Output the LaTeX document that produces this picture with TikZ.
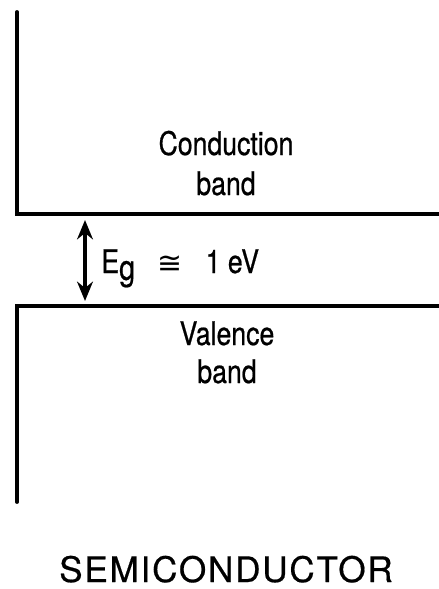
\documentclass[tikz,border=0pt]{standalone}
\usepackage{fontspec}
\setmainfont{TeX Gyre Heros}[FakeBold=0.5]
\newfontfamily\bandfont{TeX Gyre Heros}[FakeStretch=0.82, FakeBold=0.6]
\newfontfamily\capfont{TeX Gyre Heros}[FakeBold=0.5, LetterSpace=5]
\newfontfamily\symfont{DejaVu Sans}
\usetikzlibrary{arrows.meta}

\tikzset{
    bandline/.style={line width=2.2pt, line cap=round, line join=miter},
    bandtext/.style={anchor=base, inner sep=0pt, font=\bandfont\fontsize{18.5}{22}\selectfont},
}

\begin{document}
\begin{tikzpicture}[x=0.02cm, y=-0.02cm]
    \useasboundingbox (0, 0) rectangle (439, 589);

    % conduction band
    \draw[bandline] (17, 12) -- (17, 214) -- (439, 214);
    % valence band
    \draw[bandline] (17, 502) -- (17, 306) -- (439, 306);

    \node[bandtext] (cond) at (226, 155) {Conduction};
    \node[bandtext] (condb) at (226, 195) {band};
    \node[bandtext] (val) at (227, 345) {Valence};
    \node[bandtext] (valb) at (227, 383) {band};

    % gap
    \coordinate (gtop) at (85, 220);
    \coordinate (gbot) at (85, 301);
    \draw[line width=2pt, {Stealth[length=11pt, width=9pt]}-{Stealth[length=11pt, width=9pt]}] (gtop) -- (gbot);
    \node[bandtext, anchor=base west] (eg) at (101, 273) {E\raisebox{-0.4ex}{\fontsize{20}{22}\selectfont g}\hspace{0.7em}{\symfont\fontsize{17}{18}\selectfont ≅}\hspace{0.7em}1 eV};

    \node[anchor=base, inner sep=0pt, font=\capfont\fontsize{20}{22}\selectfont] (semi) at (226, 582) {SEMICONDUCTOR};
\end{tikzpicture}
\end{document}
